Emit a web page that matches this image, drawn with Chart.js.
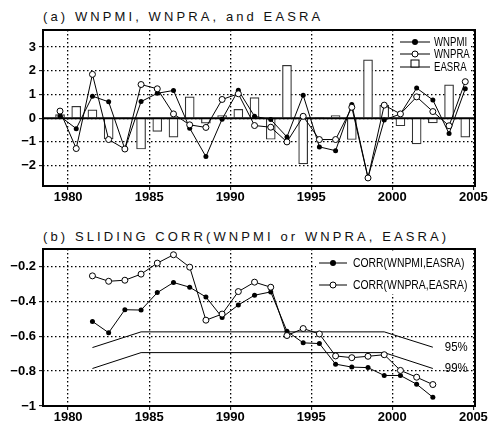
<!DOCTYPE html>
<html>
<head>
<meta charset="utf-8">
<script src="https://cdn.jsdelivr.net/npm/chart.js@4.4.1/dist/chart.umd.min.js"></script>
<style>
  body { margin: 0; background: #fff; width: 488px; height: 425px; overflow: hidden; position: relative; }
  .title { position: absolute; left: 43px; font-family: "Liberation Sans", Arial, sans-serif; font-size: 13px;
           letter-spacing: 3.1px; color: #111; white-space: nowrap; line-height: 15px; }
  #boxA { position: absolute; left: 0; top: 0; width: 488px; height: 212px; }
  #boxB { position: absolute; left: 0; top: 212px; width: 488px; height: 213px; }
</style>
</head>
<body>
<div class="title" style="top:9px">(a) WNPMI, WNPRA, and EASRA</div>
<div class="title" style="top:229px">(b) SLIDING CORR(WNPMI or WNPRA, EASRA)</div>
<div id="boxA"><canvas id="chartA" width="488" height="212"></canvas></div>
<div id="boxB"><canvas id="chartB" width="488" height="213"></canvas></div>
<script>
// panel (a) data
const years = [1979, 1980, 1981, 1982, 1983, 1984, 1985, 1986, 1987, 1988, 1989, 1990, 1991,
               1992, 1993, 1994, 1995, 1996, 1997, 1998, 1999, 2000, 2001, 2002, 2003, 2004];
const wnpmi = [0.08, -0.44, 0.93, 0.69, -1.30, 0.70, 1.05, 1.17, -0.42, -1.62, -0.04, 1.18, 0.08,
               -0.06, -0.79, 0.97, -1.21, -1.37, 0.58, -2.50, -0.08, 0.18, 1.27, 0.77, -0.65, 1.24];
const wnpra = [0.30, -1.28, 1.85, -0.90, -1.30, 1.42, 1.24, 0.18, -0.28, -0.39, 0.79, 1.03, -0.31,
               -0.38, -1.00, 0.08, -0.90, -0.90, 0.46, -2.52, 0.55, 0.18, 0.90, 0.28, -0.32, 1.54];
const easra = [0.15, 0.50, 0.35, -0.87, 0.03, -1.30, -0.56, -0.80, 0.90, -0.21, 0.11, 0.37, 0.87,
               -0.89, 2.23, -1.93, 0.02, 0.11, -0.90, 2.46, 0.54, -0.32, -1.08, -0.20, 1.41, -0.80];
const yTicksA = [-2, -1, 0, 1, 2, 3];

// panel (b) data
const corrYears = [1981, 1982, 1983, 1984, 1985, 1986, 1987, 1988, 1989, 1990, 1991,
                   1992, 1993, 1994, 1995, 1996, 1997, 1998, 1999, 2000, 2001, 2002];
const corrMI = [-0.515, -0.58, -0.448, -0.45, -0.35, -0.292, -0.319, -0.375, -0.492, -0.421, -0.365,
                -0.346, -0.571, -0.638, -0.642, -0.76, -0.777, -0.78, -0.825, -0.825, -0.875, -0.95];
const corrRA = [-0.254, -0.285, -0.279, -0.244, -0.181, -0.133, -0.204, -0.508, -0.473, -0.344, -0.29,
                -0.319, -0.596, -0.556, -0.587, -0.713, -0.723, -0.715, -0.706, -0.796, -0.835, -0.877];
const sigYears = [1981, 1984, 1999, 2002];
const sig95 = [-0.665, -0.575, -0.575, -0.663];
const sig99 = [-0.785, -0.694, -0.694, -0.785];
const yTicksB = [-1, -0.8, -0.6, -0.4, -0.2];

const xTicks = [1980, 1985, 1990, 1995, 2000, 2005];

const tickFont = { family: '"Liberation Sans", Arial, sans-serif', size: 13, weight: 'bold' };

// values are plotted in the middle of each year
function toPts(xs, ys) {
    return xs.map((x, i) => ({ x: x + 0.5, y: ys[i] }));
}

function minusLabel(v) {
    return v < 0 ? '\u2212' + Math.abs(v) : String(v);
}

// narrow-looking text: squeeze the font horizontally
function narrowText(ctx, txt, x, y, font, squeeze) {
    ctx.save();
    ctx.font = font;
    ctx.textBaseline = 'middle';
    ctx.fillStyle = '#000';
    ctx.translate(x, y);
    ctx.scale(squeeze, 1);
    ctx.fillText(txt, 0, 0);
    ctx.restore();
}

function drawMarker(ctx, type, x, y, r) {
    ctx.save();
    ctx.lineWidth = 1;
    ctx.strokeStyle = '#000';
    if (type === 'filled') {
        ctx.fillStyle = '#000';
        ctx.beginPath(); ctx.arc(x, y, r, 0, Math.PI * 2); ctx.fill();
    } else if (type === 'open') {
        ctx.fillStyle = '#fff';
        ctx.beginPath(); ctx.arc(x, y, r, 0, Math.PI * 2); ctx.fill(); ctx.stroke();
    } else {
        ctx.fillStyle = '#fff';
        ctx.fillRect(x - 4, y - 7, 8, 7);
        ctx.strokeRect(x - 4, y - 7, 8, 7);
    }
    ctx.restore();
}

// frame round the plot
const framePlugin = {
    id: 'frame',
    afterDraw(chart) {
        const { ctx, chartArea: a } = chart;
        ctx.save();
        ctx.strokeStyle = '#000';
        ctx.lineWidth = 2;
        ctx.strokeRect(a.left, a.top, a.right - a.left, a.bottom - a.top);
        ctx.restore();
    }
};

function legendPlugin(box, items, lineX, markX, textX, font, r) {
    return {
        id: 'ownLegend',
        afterDraw(chart) {
            const ctx = chart.ctx;
            ctx.save();
            ctx.fillStyle = '#fff';
            ctx.fillRect(box.x, box.y, box.w, box.h);
            items.forEach(it => {
                ctx.strokeStyle = '#000';
                ctx.lineWidth = 1;
                ctx.beginPath();
                ctx.moveTo(lineX[0], it.y); ctx.lineTo(lineX[1], it.y);
                ctx.stroke();
                drawMarker(ctx, it.type, markX, it.y, r);
                narrowText(ctx, it.label, textX, it.y + 0.5, font, 0.8);
            });
            ctx.restore();
        }
    };
}

function scalesFor(yMin, yMax, yTicks, xAxisH) {
    const grid = {
        color: '#000', lineWidth: 1.3, tickLength: 4, tickColor: '#000', tickWidth: 1,
        tickBorderDash: [10, 0], offset: false
    };
    return {
        x: {
            type: 'linear', min: 1978.45, max: 2005.1, offset: false,
            afterBuildTicks: s => { s.ticks = xTicks.map(v => ({ value: v })); },
            afterFit: s => { s.height = xAxisH; s.paddingLeft = 0; s.paddingRight = 0; },
            grid: grid,
            border: { display: false, dash: [1.5, 2.5] },
            ticks: { font: tickFont, color: '#000', padding: 0, maxRotation: 0, callback: v => String(v) }
        },
        y: {
            min: yMin, max: yMax,
            afterBuildTicks: s => { s.ticks = yTicks.map(v => ({ value: v })); },
            afterFit: s => { s.width = 43; s.paddingTop = 0; s.paddingBottom = 0; },
            grid: grid,
            border: { display: false, dash: [1.5, 2.5] },
            ticks: { font: tickFont, color: '#000', padding: 3, callback: minusLabel }
        }
    };
}

const commonPlugins = { legend: { display: false }, tooltip: { enabled: false } };

// thick zero line of panel (a), drawn right after the bars
const zeroLinePlugin = {
    id: 'zeroLine',
    afterDatasetDraw(chart, args) {
        if (args.index !== 0) return;
        const { ctx, chartArea: a, scales } = chart;
        const y0 = scales.y.getPixelForValue(0);
        ctx.save();
        ctx.strokeStyle = '#000';
        ctx.lineWidth = 2;
        ctx.beginPath(); ctx.moveTo(a.left, y0); ctx.lineTo(a.right, y0); ctx.stroke();
        ctx.restore();
    }
};

new Chart(document.getElementById('chartA'), {
    type: 'bar',
    data: {
        datasets: [
            {
                type: 'bar', label: 'EASRA', data: toPts(years, easra), order: 3,
                backgroundColor: '#fff', borderColor: '#333', borderWidth: 1.2, barThickness: 9
            },
            {
                type: 'line', label: 'WNPMI', data: toPts(years, wnpmi), order: 2,
                borderColor: '#000', borderWidth: 1, pointRadius: 2.5, pointBackgroundColor: '#000',
                pointBorderWidth: 0, tension: 0, fill: false
            },
            {
                type: 'line', label: 'WNPRA', data: toPts(years, wnpra), order: 1,
                borderColor: '#000', borderWidth: 1, pointRadius: 3, pointBackgroundColor: '#fff',
                pointBorderColor: '#000', pointBorderWidth: 1, tension: 0, fill: false
            }
        ]
    },
    options: {
        responsive: false, animation: false, devicePixelRatio: 1,
        layout: { padding: { left: 0, right: 13, top: 30, bottom: 0 } },
        scales: scalesFor(-2.86, 3.72, yTicksA, 26),
        plugins: commonPlugins
    },
    plugins: [zeroLinePlugin, framePlugin,
        legendPlugin({ x: 395, y: 35, w: 76, h: 38 },
            [{ label: 'WNPMI', type: 'filled', y: 42 },
             { label: 'WNPRA', type: 'open', y: 54 },
             { label: 'EASRA', type: 'square', y: 67 }],
            [400, 430], 415, 434, '12px "Liberation Sans", Arial, sans-serif', 3)]
});

// 95% / 99% labels at the right end of the significance lines
const sigLabelPlugin = {
    id: 'sigLabels',
    afterDatasetsDraw(chart) {
        const { ctx, scales } = chart;
        const lastX = sigYears[sigYears.length - 1] + 0.5;
        [['95%', sig95], ['99%', sig99]].forEach(([txt, arr]) => {
            const px = scales.x.getPixelForValue(lastX) + 12;
            const py = scales.y.getPixelForValue(arr[arr.length - 1]);
            narrowText(ctx, txt, px, py, '12px "Liberation Sans", Arial, sans-serif', 0.95);
        });
    }
};

new Chart(document.getElementById('chartB'), {
    type: 'line',
    data: {
        datasets: [
            {
                label: '95%', data: toPts(sigYears, sig95), order: 4,
                borderColor: '#000', borderWidth: 1, pointRadius: 0, tension: 0, fill: false
            },
            {
                label: '99%', data: toPts(sigYears, sig99), order: 3,
                borderColor: '#000', borderWidth: 1, pointRadius: 0, tension: 0, fill: false
            },
            {
                label: 'CORR(WNPMI,EASRA)', data: toPts(corrYears, corrMI), order: 2,
                borderColor: '#000', borderWidth: 1, pointRadius: 2.5, pointBackgroundColor: '#000',
                pointBorderWidth: 0, tension: 0, fill: false
            },
            {
                label: 'CORR(WNPRA,EASRA)', data: toPts(corrYears, corrRA), order: 1,
                borderColor: '#000', borderWidth: 1, pointRadius: 3, pointBackgroundColor: '#fff',
                pointBorderColor: '#000', pointBorderWidth: 1, tension: 0, fill: false
            }
        ]
    },
    options: {
        responsive: false, animation: false, devicePixelRatio: 1,
        layout: { padding: { left: 0, right: 13, top: 37, bottom: 0 } },
        scales: scalesFor(-1, -0.1, yTicksB, 19),
        plugins: commonPlugins
    },
    plugins: [framePlugin, sigLabelPlugin,
        legendPlugin({ x: 316, y: 252 - 212, w: 156, h: 42 },
            [{ label: 'CORR(WNPMI,EASRA)', type: 'filled', y: 263 - 212 },
             { label: 'CORR(WNPRA,EASRA)', type: 'open', y: 285 - 212 }],
            [319, 347], 333, 353, '13px "Liberation Sans", Arial, sans-serif', 3)]
});
</script>
</body>
</html>
